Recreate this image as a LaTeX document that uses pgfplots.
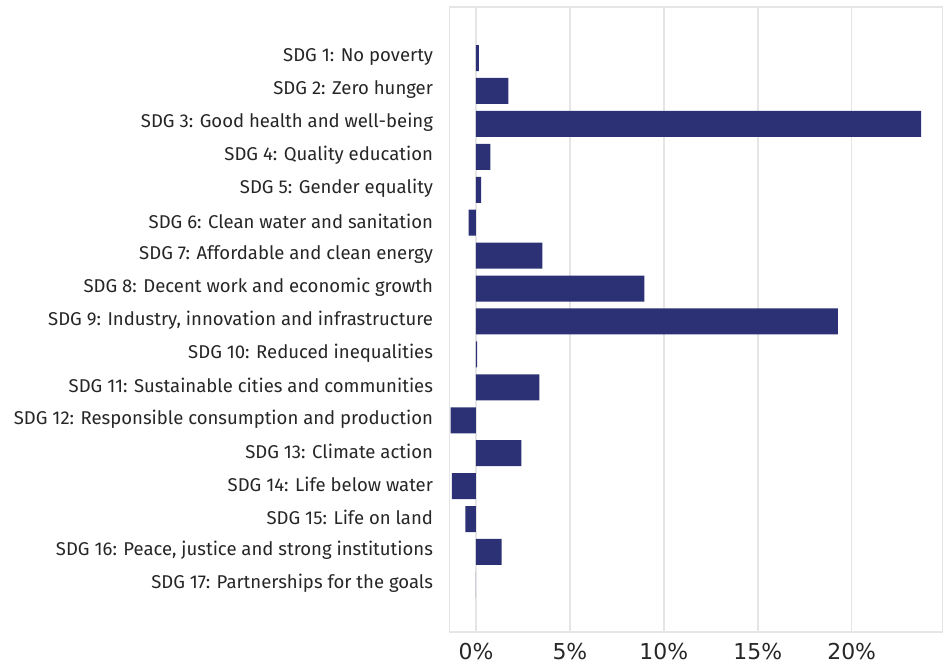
\documentclass[border=0pt]{standalone}
\usepackage{pgfplots}
\pgfplotsset{compat=1.18}
\usepackage{fontspec}
\setmainfont{Fira Sans}
\newfontfamily\tickfont{DejaVu Sans}
\definecolor{barcol}{RGB}{43,49,116}
\definecolor{gridcol}{RGB}{229,229,229}
\begin{document}
\begin{tikzpicture}
\useasboundingbox (0,0) rectangle (943bp,666bp);
\begin{axis}[
  at={(943bp,659bp)}, anchor=north east,
  scale only axis,
  width=493.5bp, height=625bp,
  xbar, bar width=0.79, bar shift=0pt,
  y dir=reverse,
  xmin=-1.41, xmax=24.86,
  ymin=-0.55, ymax=18.43,
  ytick={1,...,17},
  yticklabels={SDG 1: No poverty, SDG 2: Zero hunger, SDG 3: Good health and well-being, SDG 4: Quality education, SDG 5: Gender equality, SDG 6: Clean water and sanitation, SDG 7: Affordable and clean energy, SDG 8: Decent work and economic growth, SDG 9: Industry{,} innovation and infrastructure, SDG 10: Reduced inequalities, SDG 11: Sustainable cities and communities, SDG 12: Responsible consumption and production, SDG 13: Climate action, SDG 14: Life below water, SDG 15: Life on land, SDG 16: Peace{,} justice and strong institutions, SDG 17: Partnerships for the goals},
  yticklabel style={font=\fontsize{18.6}{21}\selectfont, color=black!85, xshift=-13bp, yshift=1.5bp},
  xtick={0,5,10,15,20},
  xticklabels={0\%,5\%,10\%,15\%,20\%},
  xticklabel style={font=\tickfont\fontsize{22}{24}\selectfont, color=black!85, yshift=-8bp},
  major tick length=0pt,
  xmajorgrids,
  grid style={gridcol, line width=1.5bp},
  axis line style={gridcol, line width=1.5bp},
]
\addplot[fill=barcol, draw=none] coordinates {
(0.16,1) (1.72,2) (23.69,3) (0.76,4) (0.28,5) (-0.39,6) (3.54,7) (8.97,8) (19.27,9) (0.06,10) (3.38,11) (-1.35,12) (2.41,13) (-1.28,14) (-0.57,15) (1.36,16) (0,17)
};
\end{axis}
\end{tikzpicture}
\end{document}
